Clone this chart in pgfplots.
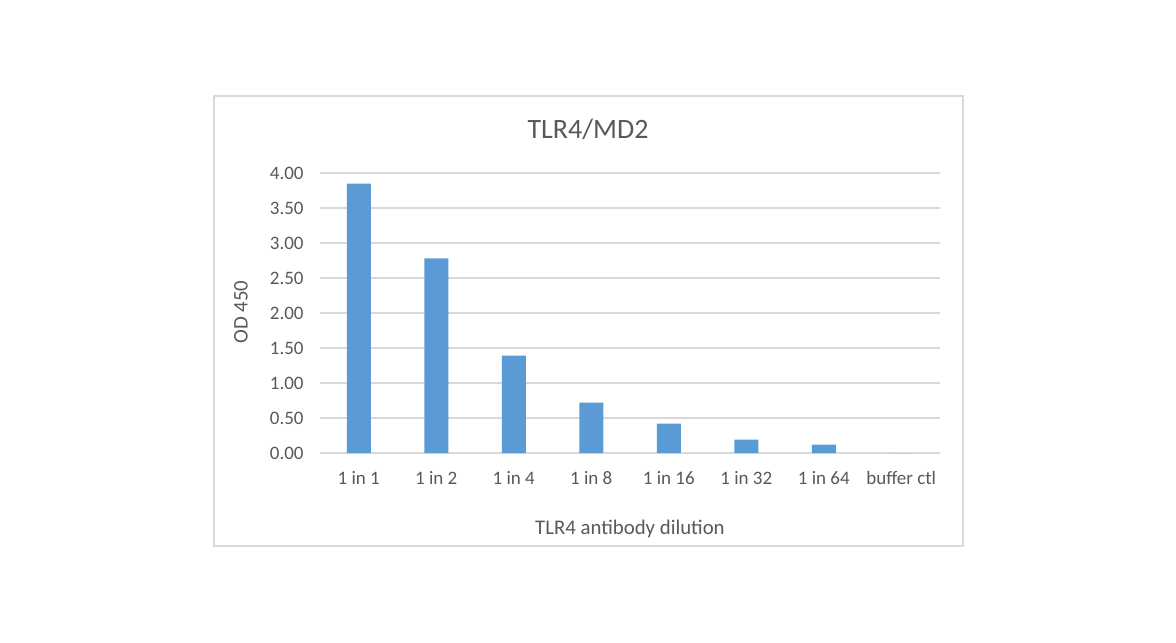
\documentclass[border=0pt]{standalone}
\usepackage{pgfplots}
\pgfplotsset{compat=1.18}
\usepackage{fontspec}
\setmainfont{Carlito}
\definecolor{txt}{HTML}{595959}
\definecolor{gridc}{HTML}{D9D9D9}
\definecolor{barc}{HTML}{5B9BD5}
\pgfplotstableread{
x y
0 3.85
1 2.78
2 1.39
3 0.72
4 0.42
5 0.19
6 0.12
7 0.00
}\datatable
\begin{document}
\begin{tikzpicture}
\path[use as bounding box, fill=white] (0,0) rectangle (588pt,-321pt);
\draw[gridc, line width=1pt] (106.75pt,-48pt) rectangle (481.25pt,-272.75pt);
\begin{axis}[
  at={(160pt,-226.5pt)}, anchor=south west,
  scale only axis, width=310pt, height=140pt,
  xmin=-0.5, xmax=7.5, ymin=0, ymax=4,
  xtick={0,...,7},
  xticklabels={1 in 1,1 in 2,1 in 4,1 in 8,1 in 16,1 in 32,1 in 64,buffer ctl},
  ytick={0,0.5,...,4},
  major tick length=0pt,
  axis x line*=bottom, axis y line*=left,
  x axis line style={gridc, line width=0.75pt},
  y axis line style={draw=none},
  ymajorgrids, grid style={gridc, line width=0.75pt},
  /pgf/number format/.cd, fixed, fixed zerofill, precision=2, assume math mode=true,
  /pgfplots/.cd,
  yticklabel style={anchor=east, inner sep=0pt, xshift=-8pt, text=txt, font=\fontsize{9.5pt}{11pt}\selectfont},
  xticklabel style={anchor=base, inner sep=0pt, yshift=-15.5pt, text=txt, font=\fontsize{9.5pt}{11pt}\selectfont},
  title={TLR4/MD2},
  title style={at={(axis description cs:0.4323,1.1239)}, anchor=base, yshift=-6pt, inner sep=0pt, text=txt, font=\fontsize{14pt}{16pt}\selectfont},
  xlabel={TLR4 antibody dilution},
  xlabel style={at={(axis description cs:0.5,-0.2911)}, anchor=base, inner sep=0pt, text=txt, font=\fontsize{10.4pt}{12pt}\selectfont},
  ylabel={OD 450},
  ylabel style={at={(axis description cs:-0.1166,0.5036)}, anchor=base, inner sep=0pt, text=txt, font=\fontsize{10.4pt}{12pt}\selectfont},
  ybar, bar width=12pt,
]
\addplot[fill=barc, draw=none] table[x=x,y=y] {\datatable};
\end{axis}
\end{tikzpicture}
\end{document}
